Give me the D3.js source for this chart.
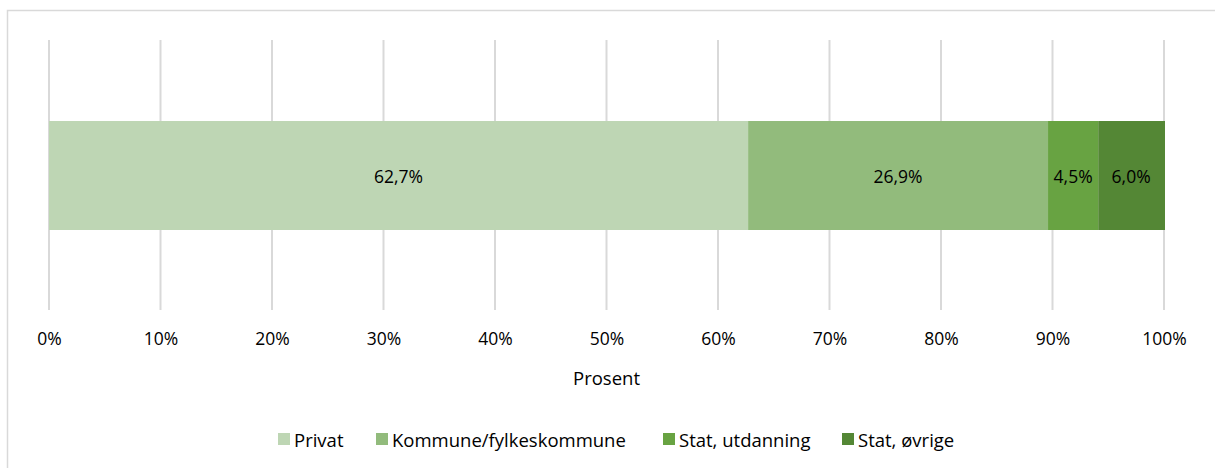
<!DOCTYPE html>
<html><head><meta charset="utf-8">
<script src="https://cdn.jsdelivr.net/npm/d3@7"></script>
<style>body{margin:0;background:#fff}svg{display:block;font-family:"Open Sans",Lato,sans-serif}</style>
</head><body><svg id="c" width="1215" height="468"></svg>
<script>
const series = ["Privat","Kommune/fylkeskommune","Stat, utdanning","Stat, øvrige"];
const values = [62.7, 26.9, 4.5, 6.0];
const labels = ["62,7%","26,9%","4,5%","6,0%"];
const colors = ["#bed6b4","#92bb7c","#68a342","#548735"];
const ticks = [0,10,20,30,40,50,60,70,80,90,100];
const tickLabels = ticks.map(t => t + "%");

const FS = 17.5, FS2 = 18.5;
const svg = d3.select("#c");
svg.append("rect").attr("x",7.5).attr("y",10.5).attr("width",1230).attr("height",480)
  .attr("fill","#fff").attr("stroke","#d9d9d9").attr("stroke-width",1.5);

const x = d3.scaleLinear().domain([0,100]).range([49,1164]);

// gridlines
svg.append("g").selectAll("line").data(ticks).join("line")
  .attr("x1",d=>x(d)).attr("x2",d=>x(d)).attr("y1",40).attr("y2",310)
  .attr("stroke","#d9d9d9").attr("stroke-width",2);

// stacked bar
let cum = 0;
const stack = values.map((v,i)=>{const s={x0:cum,x1:cum+v,i}; cum+=v; return s;});
const by = 121, bh = 109;
svg.append("g").selectAll("rect").data(stack).join("rect")
  .attr("x",d=>x(d.x0)).attr("width",d=>Math.min(x(d.x1),x(100)+1)-x(d.x0))
  .attr("y",by).attr("height",bh).attr("fill",d=>colors[d.i]);
svg.append("g").selectAll("text").data(stack).join("text")
  .attr("x",d=>(x(d.x0)+Math.min(x(d.x1),x(100)))/2).attr("y",by+bh/2)
  .attr("text-anchor","middle").attr("dominant-baseline","central")
  .attr("font-size",FS).attr("fill","#000").text(d=>labels[d.i]);

// axis labels
const axis = d3.axisBottom(x).tickValues(ticks).tickFormat((d,i)=>tickLabels[i]).tickSize(0).tickPadding(0);
const ag = svg.append("g").attr("transform","translate(0,338)").call(axis);
ag.select(".domain").remove();
ag.selectAll("text").attr("font-size",FS).attr("font-family","Open Sans").attr("fill","#000")
  .attr("dy",null).attr("y",0).attr("dominant-baseline","central");

svg.append("text").attr("x",(x(0)+x(100))/2).attr("y",377).attr("text-anchor","middle")
  .attr("dominant-baseline","central").attr("font-size",FS2).attr("fill","#000").text("Prosent");

// legend
const legX = [278, 376, 663, 842];
const lg = svg.append("g").selectAll("g").data(series).join("g")
  .attr("transform",(d,i)=>`translate(${legX[i]},433)`);
lg.append("rect").attr("width",12).attr("height",12).attr("fill",(d,i)=>colors[i]);
lg.append("text").attr("x",16).attr("y",6).attr("dominant-baseline","central")
  .attr("font-size",FS2).attr("fill","#000").text(d=>d);
</script></body></html>
